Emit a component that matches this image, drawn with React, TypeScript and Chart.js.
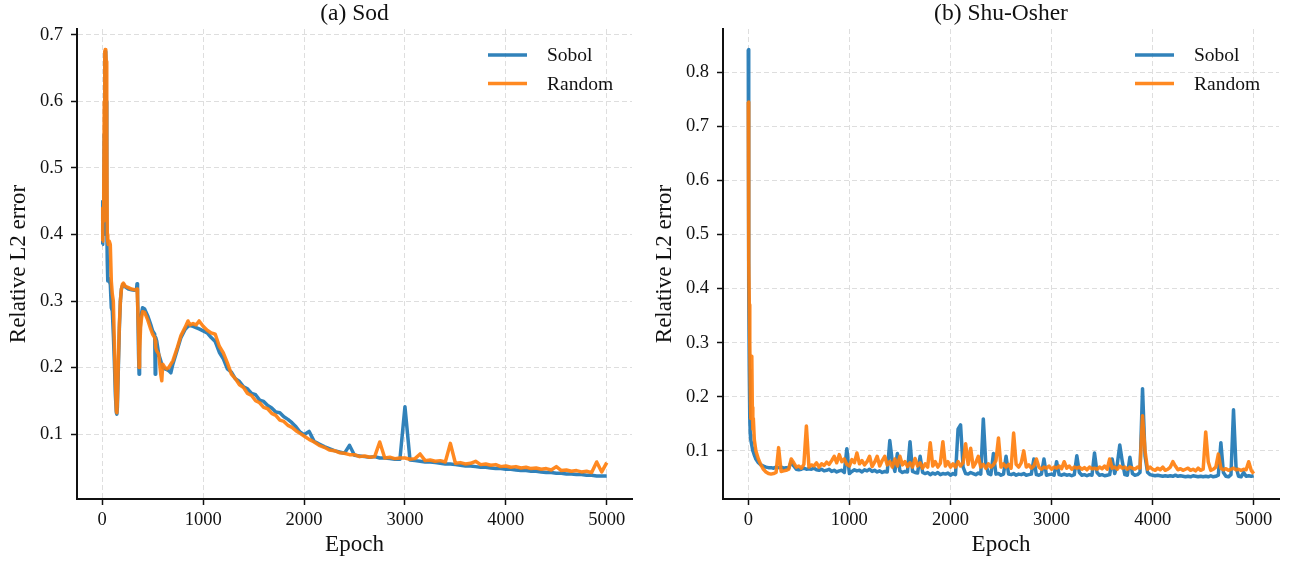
import { useEffect, useRef } from "react";
import { Chart, registerables } from "chart.js";

Chart.register(...registerables);

const FONT = '"Liberation Serif", "Times New Roman", Times, serif';
const SERIES_LABELS = ["Sobol", "Random"];
const TITLES = ["(a) Sod", "(b) Shu-Osher"];
const X_LABEL = "Epoch";
const Y_LABEL = "Relative L2 error";
const X_TICKS = [0, 1000, 2000, 3000, 4000, 5000];
const SOD_Y_TICKS = [0.1, 0.2, 0.3, 0.4, 0.5, 0.6, 0.7];
const SHU_Y_TICKS = [0.1, 0.2, 0.3, 0.4, 0.5, 0.6, 0.7, 0.8];

// ---------- (a) Sod ----------
const SOD_EPOCHS = [
  0, 5, 10, 15, 20, 25, 30, 35, 40, 45,
  50, 55, 60, 70, 80, 90, 100, 110, 120, 130,
  140, 145, 150, 160, 170, 180, 190, 200, 210, 230,
  260, 290, 320, 340, 345, 350, 360, 365, 370, 380,
  390, 400, 420, 450, 480, 500, 520, 525, 530, 540,
  560, 580, 590, 600, 620, 640, 660, 680, 700, 740,
  780, 820, 850, 870, 900, 930, 960,
  1000, 1040, 1080, 1120, 1160, 1200, 1240, 1280, 1320, 1360,
  1400, 1440, 1480, 1520, 1560, 1600, 1640, 1680, 1720, 1760,
  1800, 1840, 1880, 1920, 1960, 2000,
  2050, 2100, 2150, 2200, 2250, 2300, 2350, 2400, 2450, 2500,
  2550, 2600, 2650, 2700, 2750, 2800, 2850, 2900, 2950, 3000,
  3050, 3100, 3150, 3200, 3250, 3300, 3350, 3400, 3450, 3500,
  3550, 3600, 3650, 3700, 3750, 3800, 3850, 3900, 3950, 4000,
  4050, 4100, 4150, 4200, 4250, 4300, 4350, 4400, 4450, 4500,
  4550, 4600, 4650, 4700, 4750, 4800, 4850, 4900, 4950, 5000,
];

const SOD_SOBOL = [
  0.385, 0.45, 0.40, 0.45, 0.55, 0.66, 0.675, 0.67, 0.60, 0.42,
  0.36, 0.33, 0.335, 0.33, 0.325, 0.29, 0.285, 0.25, 0.21, 0.16,
  0.132, 0.13, 0.14, 0.20, 0.26, 0.30, 0.318, 0.323, 0.325, 0.321,
  0.318, 0.317, 0.316, 0.318, 0.326, 0.31, 0.22, 0.19, 0.24, 0.27,
  0.282, 0.29, 0.288, 0.278, 0.265, 0.255, 0.25, 0.19, 0.245, 0.24,
  0.22, 0.21, 0.205, 0.20, 0.198, 0.197, 0.195, 0.192, 0.205, 0.225,
  0.245, 0.257, 0.262, 0.263, 0.262, 0.26, 0.258,
  0.255, 0.252, 0.245, 0.239, 0.223, 0.213, 0.198, 0.193, 0.183, 0.179,
  0.171, 0.168, 0.161, 0.159, 0.151, 0.149, 0.143, 0.139, 0.133, 0.132,
  0.126, 0.122, 0.117, 0.111, 0.103, 0.099,
  0.104, 0.089, 0.085, 0.081, 0.078, 0.075, 0.073, 0.071, 0.083, 0.068,
  0.067, 0.066, 0.065, 0.066, 0.064, 0.064, 0.063, 0.062, 0.062, 0.141,
  0.061, 0.060, 0.059, 0.058, 0.058, 0.057, 0.056, 0.055, 0.055, 0.054,
  0.053, 0.052, 0.052, 0.051, 0.050, 0.050, 0.049, 0.048, 0.048, 0.047,
  0.047, 0.046, 0.045, 0.045, 0.044, 0.044, 0.043, 0.042, 0.042, 0.041,
  0.041, 0.040, 0.040, 0.039, 0.039, 0.038, 0.038, 0.037, 0.037, 0.037,
];

const SOD_RANDOM = [
  0.39, 0.44, 0.42, 0.46, 0.60, 0.675, 0.678, 0.675, 0.66, 0.55,
  0.40, 0.39, 0.385, 0.39, 0.385, 0.33, 0.31, 0.30, 0.24, 0.18,
  0.135, 0.132, 0.15, 0.21, 0.265, 0.30, 0.318, 0.325, 0.327, 0.322,
  0.32, 0.318, 0.317, 0.316, 0.318, 0.30, 0.25, 0.20, 0.22, 0.26,
  0.275, 0.284, 0.283, 0.272, 0.258, 0.25, 0.245, 0.24, 0.23, 0.225,
  0.22, 0.19, 0.18, 0.205, 0.20, 0.198, 0.20, 0.205, 0.21, 0.228,
  0.248, 0.26, 0.27, 0.264, 0.266, 0.264, 0.27,
  0.262, 0.256, 0.252, 0.25, 0.232, 0.222, 0.207, 0.19, 0.183, 0.174,
  0.17, 0.161, 0.158, 0.15, 0.147, 0.14, 0.138, 0.131, 0.128, 0.121,
  0.119, 0.113, 0.11, 0.105, 0.101, 0.097,
  0.092, 0.088, 0.083, 0.080, 0.076, 0.075, 0.072, 0.071, 0.069, 0.069,
  0.066, 0.067, 0.065, 0.066, 0.088, 0.064, 0.065, 0.063, 0.064, 0.064,
  0.062, 0.063, 0.070, 0.060, 0.061, 0.059, 0.060, 0.058, 0.086, 0.056,
  0.057, 0.055, 0.056, 0.059, 0.054, 0.055, 0.053, 0.054, 0.051, 0.052,
  0.050, 0.051, 0.049, 0.050, 0.048, 0.049, 0.047, 0.048, 0.046, 0.051,
  0.045, 0.046, 0.044, 0.045, 0.043, 0.044, 0.042, 0.058, 0.043, 0.057,
];

// ---------- (b) Shu-Osher ----------
const SHU_EPOCHS = [
  0, 3, 6, 10, 15, 20, 25, 30, 35, 40, 45, 50, 60, 75,
  100, 125, 150, 175, 200, 225, 250, 275,
  300, 325, 350, 375, 400, 425, 450, 475,
  500, 525, 550, 575, 600, 625, 650, 675,
  700, 725, 750, 775, 800, 825, 850, 875,
  900, 925, 950, 975, 1000, 1025, 1050, 1075,
  1100, 1125, 1150, 1175, 1200, 1225, 1250, 1275,
  1300, 1325, 1350, 1375, 1400, 1425, 1450, 1475,
  1500, 1525, 1550, 1575, 1600, 1625, 1650, 1675,
  1700, 1725, 1750, 1775, 1800, 1825, 1850, 1875,
  1900, 1925, 1950, 1975, 2000, 2025, 2050, 2075,
  2100, 2125, 2150, 2175, 2200, 2225, 2250, 2275,
  2300, 2325, 2350, 2375, 2400, 2425, 2450, 2475,
  2500, 2525, 2550, 2575, 2600, 2625, 2650, 2675,
  2700, 2725, 2750, 2775, 2800, 2825, 2850, 2875,
  2900, 2925, 2950, 2975, 3000, 3025, 3050, 3075,
  3100, 3125, 3150, 3175, 3200, 3225, 3250, 3275,
  3300, 3325, 3350, 3375, 3400, 3425, 3450, 3475,
  3500, 3525, 3550, 3575, 3600, 3625, 3650, 3675,
  3700, 3725, 3750, 3775, 3800, 3825, 3850, 3875,
  3900, 3925, 3950, 3975, 4000, 4025, 4050, 4075,
  4100, 4125, 4150, 4175, 4200, 4225, 4250, 4275,
  4300, 4325, 4350, 4375, 4400, 4425, 4450, 4475,
  4500, 4525, 4550, 4575, 4600, 4625, 4650, 4675,
  4700, 4725, 4750, 4775, 4800, 4825, 4850, 4875,
  4900, 4925, 4950, 4975, 5000,
];

const SHU_SOBOL = [
  0.842, 0.60, 0.40, 0.25, 0.16, 0.13, 0.12, 0.115, 0.11, 0.105, 0.10, 0.098, 0.092, 0.085,
  0.078, 0.074, 0.072, 0.070, 0.069, 0.069, 0.068, 0.070,
  0.069, 0.070, 0.068, 0.069, 0.068, 0.080, 0.072, 0.066,
  0.065, 0.066, 0.068, 0.066, 0.067, 0.066, 0.068, 0.065,
  0.064, 0.066, 0.063, 0.064, 0.066, 0.062, 0.064, 0.061,
  0.063, 0.064, 0.060, 0.104, 0.058, 0.062, 0.065, 0.063,
  0.064, 0.061, 0.065, 0.063, 0.066, 0.062, 0.064, 0.061,
  0.063, 0.060, 0.062, 0.061, 0.119, 0.080, 0.062, 0.095,
  0.063, 0.060, 0.062, 0.061, 0.117, 0.062, 0.060, 0.059,
  0.090, 0.060, 0.058, 0.060, 0.056, 0.059, 0.057, 0.060,
  0.056, 0.058, 0.057, 0.059, 0.055, 0.058, 0.056, 0.140,
  0.148, 0.070, 0.058, 0.057, 0.060, 0.058, 0.056, 0.059,
  0.057, 0.159, 0.075, 0.058, 0.056, 0.095, 0.057, 0.058,
  0.055, 0.057, 0.090, 0.057, 0.056, 0.058, 0.055, 0.057,
  0.056, 0.058, 0.055, 0.056, 0.057, 0.085, 0.056, 0.055,
  0.057, 0.085, 0.055, 0.056, 0.057, 0.055, 0.080, 0.056,
  0.055, 0.057, 0.055, 0.056, 0.054, 0.056, 0.091, 0.060,
  0.055, 0.056, 0.054, 0.056, 0.055, 0.096, 0.060, 0.055,
  0.056, 0.054, 0.055, 0.056, 0.085, 0.058, 0.075, 0.111,
  0.080, 0.056, 0.055, 0.088, 0.058, 0.055, 0.056, 0.060,
  0.215, 0.090, 0.060, 0.056, 0.055, 0.054, 0.055, 0.054,
  0.053, 0.054, 0.053, 0.054, 0.053, 0.055, 0.053, 0.054,
  0.053, 0.052, 0.053, 0.052, 0.054, 0.053, 0.052, 0.053,
  0.052, 0.053, 0.052, 0.054, 0.052, 0.053, 0.055, 0.115,
  0.060, 0.053, 0.052, 0.056, 0.176, 0.070, 0.053, 0.052,
  0.060, 0.053, 0.054, 0.053, 0.054,
];

const SHU_RANDOM = [
  0.745, 0.60, 0.45, 0.37, 0.30, 0.22, 0.16, 0.20, 0.275, 0.18, 0.14, 0.16, 0.12, 0.10,
  0.085, 0.074, 0.066, 0.061, 0.058, 0.057, 0.058, 0.060,
  0.106, 0.062, 0.063, 0.064, 0.066, 0.085, 0.078, 0.070,
  0.072, 0.068, 0.075, 0.146, 0.070, 0.074, 0.072, 0.078,
  0.070, 0.076, 0.073, 0.079, 0.075, 0.082, 0.090, 0.078,
  0.093, 0.080, 0.085, 0.075, 0.072, 0.084, 0.078, 0.096,
  0.076, 0.082, 0.074, 0.080, 0.090, 0.071, 0.079, 0.090,
  0.072, 0.082, 0.090, 0.074, 0.080, 0.070, 0.085, 0.072,
  0.090, 0.074, 0.080, 0.071, 0.078, 0.070, 0.086, 0.072,
  0.078, 0.068, 0.076, 0.070, 0.115, 0.072, 0.080, 0.070,
  0.077, 0.117, 0.072, 0.080, 0.070, 0.076, 0.070, 0.080,
  0.072, 0.078, 0.113, 0.075, 0.105, 0.070, 0.078, 0.090,
  0.070, 0.075, 0.068, 0.076, 0.070, 0.074, 0.082, 0.124,
  0.070, 0.076, 0.070, 0.075, 0.068, 0.133, 0.075, 0.070,
  0.078, 0.100, 0.070, 0.074, 0.068, 0.072, 0.085, 0.070,
  0.066, 0.070, 0.068, 0.072, 0.066, 0.070, 0.068, 0.072,
  0.067, 0.080, 0.068, 0.072, 0.066, 0.070, 0.068, 0.070,
  0.066, 0.069, 0.065, 0.070, 0.067, 0.068, 0.066, 0.070,
  0.067, 0.072, 0.066, 0.085, 0.068, 0.070, 0.066, 0.072,
  0.068, 0.070, 0.066, 0.070, 0.068, 0.066, 0.070, 0.068,
  0.165, 0.100, 0.066, 0.070, 0.066, 0.064, 0.068, 0.065,
  0.070, 0.064, 0.066, 0.070, 0.080, 0.072, 0.065, 0.067,
  0.064, 0.066, 0.068, 0.064, 0.066, 0.063, 0.068, 0.064,
  0.066, 0.135, 0.080, 0.064, 0.066, 0.070, 0.094, 0.068,
  0.065, 0.067, 0.064, 0.066, 0.068, 0.065, 0.066, 0.064,
  0.066, 0.065, 0.080, 0.064, 0.058,
];

const BLUE = "rgba(31,119,180,0.92)";
const ORANGE = "rgba(255,127,14,0.92)";
const TEXT = "#111111";
const GRID = "#dedede";
const LINE_W = 3.5;

const annotPlugin = {
  id: "annot",
  afterDraw(chart: any) {
    const { ctx, chartArea } = chart;
    const title = chart.options.plugins.annot.title;
    ctx.save();
    ctx.fillStyle = TEXT;
    ctx.font = `23.5px ${FONT}`;
    ctx.textAlign = "center";
    ctx.textBaseline = "alphabetic";
    ctx.fillText(title, (chartArea.left + chartArea.right) / 2, 19.5);
    // legend
    const ds = chart.data.datasets;
    ds.forEach((d: any, i: number) => {
      const y = 55 + i * 28.5;
      ctx.strokeStyle = d.borderColor;
      ctx.lineWidth = LINE_W;
      ctx.lineCap = "butt";
      ctx.beginPath();
      ctx.moveTo(chartArea.right - 144, y);
      ctx.lineTo(chartArea.right - 105, y);
      ctx.stroke();
      ctx.fillStyle = TEXT;
      ctx.font = `19.5px ${FONT}`;
      ctx.textAlign = "left";
      ctx.textBaseline = "middle";
      ctx.fillText(d.label, chartArea.right - 85, y + 1);
    });
    ctx.restore();
  },
};

function makeConfig(
  title: string,
  epochs: number[],
  sobol: number[],
  random: number[],
  yTicks: number[],
  yMin: number,
  yMax: number
): any {
  const values = [sobol, random];
  const colors = [BLUE, ORANGE];
  return {
    type: "line",
    data: {
      datasets: values.map((vals, k) => ({
        label: SERIES_LABELS[k],
        data: epochs.map((e, i) => ({ x: e, y: vals[i] })),
        borderColor: colors[k],
        backgroundColor: colors[k],
        borderWidth: LINE_W,
        pointRadius: 0,
        tension: 0,
        borderJoinStyle: "round",
        fill: false,
        order: k === 0 ? 2 : 1,
      })),
    },
    options: {
      responsive: false,
      animation: false,
      events: [],
      layout: { padding: { top: 29, right: 14, left: 0, bottom: 0 } },
      plugins: {
        legend: { display: false },
        tooltip: { enabled: false },
        title: { display: false },
        annot: { title },
      },
      scales: {
        x: {
          type: "linear",
          bounds: "data",
          min: -250,
          max: 5250,
          afterBuildTicks: (s: any) => {
            s.ticks = X_TICKS.map((v) => ({ value: v }));
          },
          afterFit: (s: any) => {
            s.height = 67;
          },
          ticks: {
            font: { family: FONT, size: 18.5 },
            color: TEXT,
            padding: 4,
            maxRotation: 0,
            autoSkip: false,
            callback: (v: any) => String(v),
          },
          grid: {
            color: GRID,
            lineWidth: 1,
            drawTicks: true,
            tickLength: 6,
            tickColor: TEXT,
            tickWidth: 1.5,
            tickBorderDash: [],
          },
          border: { display: true, color: TEXT, width: 2, dash: [5, 3] },
          title: {
            display: true,
            text: X_LABEL,
            font: { family: FONT, size: 23 },
            color: TEXT,
            padding: { top: 0, bottom: 7 },
          },
        },
        y: {
          type: "linear",
          bounds: "data",
          min: yMin,
          max: yMax,
          afterBuildTicks: (s: any) => {
            s.ticks = yTicks.map((v) => ({ value: v }));
          },
          afterFit: (s: any) => {
            s.width = 77;
          },
          ticks: {
            font: { family: FONT, size: 18.5 },
            color: TEXT,
            padding: 8,
            autoSkip: false,
            callback: (v: any) => Number(v).toFixed(1),
          },
          grid: {
            color: GRID,
            lineWidth: 1,
            drawTicks: true,
            tickLength: 6,
            tickColor: TEXT,
            tickWidth: 1.5,
            tickBorderDash: [],
          },
          border: { display: true, color: TEXT, width: 2, dash: [5, 3] },
          title: {
            display: true,
            text: Y_LABEL,
            font: { family: FONT, size: 23 },
            color: TEXT,
            padding: { top: 5, bottom: 0 },
          },
        },
      },
    },
    plugins: [annotPlugin],
  };
}

function Panel(props: {
  left: number;
  width: number;
  title: string;
  epochs: number[];
  sobol: number[];
  random: number[];
  yTicks: number[];
  yMin: number;
  yMax: number;
}) {
  const ref = useRef<HTMLCanvasElement | null>(null);
  useEffect(() => {
    const chart = new Chart(
      ref.current as HTMLCanvasElement,
      makeConfig(props.title, props.epochs, props.sobol, props.random, props.yTicks, props.yMin, props.yMax)
    );
    return () => chart.destroy();
  }, []);
  return (
    <canvas
      ref={ref}
      width={props.width}
      height={566}
      style={{ position: "absolute", left: props.left, top: 0, width: props.width, height: 566 }}
    />
  );
}

export default function App() {
  return (
    <div style={{ position: "fixed", left: 0, top: 0, width: 1293, height: 566, background: "#fff" }}>
      <Panel
        left={0}
        width={646}
        title={TITLES[0]}
        epochs={SOD_EPOCHS}
        sobol={SOD_SOBOL}
        random={SOD_RANDOM}
        yTicks={SOD_Y_TICKS}
        yMin={0.0023}
        yMax={0.709}
      />
      <Panel
        left={646}
        width={647}
        title={TITLES[1]}
        epochs={SHU_EPOCHS}
        sobol={SHU_SOBOL}
        random={SHU_RANDOM}
        yTicks={SHU_Y_TICKS}
        yMin={0.011}
        yMax={0.88}
      />
    </div>
  );
}
